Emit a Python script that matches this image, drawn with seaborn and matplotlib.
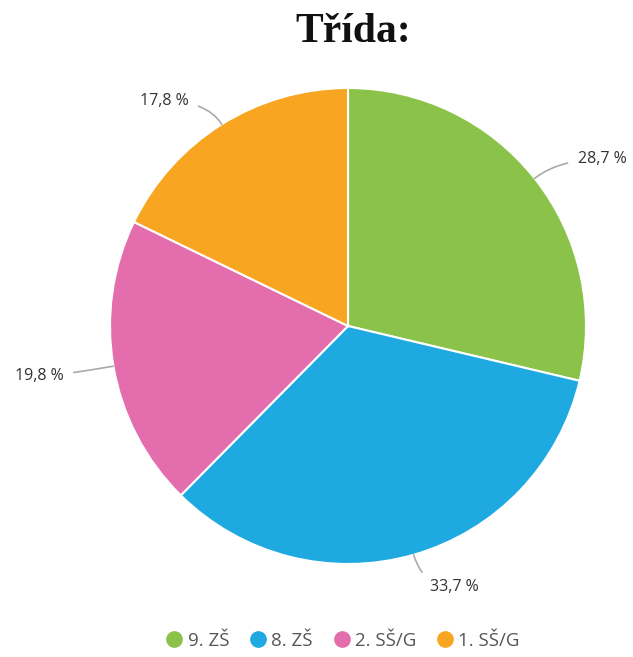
import matplotlib
matplotlib.use("Agg")
import matplotlib.pyplot as plt
import numpy as np
import seaborn as sns

# data
categories = ['9. ZŠ', '8. ZŠ', '2. SŠ/G', '1. SŠ/G']
shares = [28.7, 33.7, 19.8, 17.8]
labels = ['28,7 %', '33,7 %', '19,8 %', '17,8 %']
colors = ['#8BC34A', '#1FA9E1', '#E46DAD', '#F8A622']

sns.set_theme(style='white')
plt.rcParams['font.family'] = ['Open Sans', 'DejaVu Sans']

fig = plt.figure(figsize=(6.33, 6.57), dpi=100)
ax = fig.add_axes([(348 - 238) / 633, 1 - (326 + 238) / 657, 476 / 633, 476 / 657])

wedges, _ = ax.pie(shares, colors=colors, startangle=90, counterclock=False,
                   wedgeprops=dict(edgecolor='white', linewidth=1.5))
ax.set_xlim(-1, 1)
ax.set_ylim(-1, 1)
ax.set_aspect('equal')

# label anchors (in radius units) per slice
text_pos = [(0.965, 0.70), (0.345, -1.095), (-1.195, -0.21), (-0.67, 0.945)]
aligns = ['left', 'left', 'right', 'right']
for w, lab, pos, ha in zip(wedges, labels, text_pos, aligns):
    ang = np.deg2rad((w.theta1 + w.theta2) / 2)
    x, y = np.cos(ang), np.sin(ang)
    ax.annotate(lab, xy=(x, y), xytext=(pos[0], pos[1]),
                ha=ha, va='center', fontsize=11.5, color='#333333',
                annotation_clip=False,
                arrowprops=dict(arrowstyle='-', color='#aaaaaa', lw=1.2,
                                shrinkA=5, shrinkB=0,
                                connectionstyle='angle3,angleA=0,angleB=%f' % np.rad2deg(ang)))

fig.text(353 / 633, 1 - 32 / 657, 'Třída:', ha='center', va='center',
         fontsize=30, fontweight='bold', family=['Liberation Serif'], color='#111111')

handles = [plt.Line2D([], [], marker='o', linestyle='', markersize=11,
                      markerfacecolor=c, markeredgecolor=c) for c in colors]
fig.legend(handles, categories, loc='center', bbox_to_anchor=(342 / 633, 1 - 641 / 657),
           ncol=4, frameon=False, fontsize=13.5, labelcolor='#555555',
           handletextpad=0.15, columnspacing=1.0, handlelength=1.1)

fig.savefig('out.png', dpi=100)
